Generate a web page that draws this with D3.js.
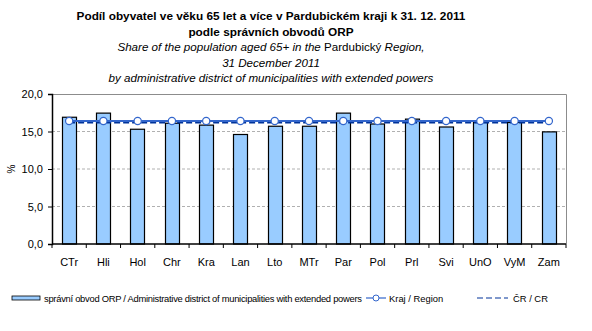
<!DOCTYPE html>
<html><head><meta charset="utf-8">
<script src="https://cdn.jsdelivr.net/npm/d3@7/dist/d3.min.js"></script>
<style>body{margin:0;background:#fff}svg{display:block}text{font-family:"Liberation Sans",Arial,sans-serif}</style>
</head><body>
<svg id="c" width="592" height="331"></svg>
<script>
const categories = ["CTr","Hli","Hol","Chr","Kra","Lan","Lto","MTr","Par","Pol","Prl","Svi","UnO","VyM","Zam"];
const orpValues = [16.9,17.45,15.3,16.1,15.85,14.6,15.7,15.7,17.45,16.0,16.65,15.6,16.2,16.2,14.95];
const regionValues = [16.4,16.4,16.4,16.4,16.4,16.4,16.4,16.4,16.4,16.4,16.4,16.4,16.4,16.4,16.4];
const crValues = [16.2,16.2,16.2,16.2,16.2,16.2,16.2,16.2,16.2,16.2,16.2,16.2,16.2,16.2,16.2];
const yTicks = [0,5,10,15,20];
const titleLines = ["Podíl obyvatel ve věku 65 let a více v Pardubickém  kraji k 31. 12. 2011","podle správních  obvodů ORP"];
const subtitleLines = ["Share of the population  aged 65+ in the Pardubický Region,","31 December 2011","by administrative district of municipalities with extended powers"];
const legendLabels = ["správní obvod ORP / Administrative district of municipalities with extended powers","Kraj / Region","ČR / CR"];

const svg = d3.select("#c");
const L=52, R=566, T=94, B=244;
const x = d3.scaleBand().domain(categories).range([L,R]).paddingInner(0.58).paddingOuter(0.29);
const xb = d3.scaleBand().domain(categories).range([L,R]);
const y = d3.scaleLinear().domain([0,20]).range([B,T]);

// titles
const cx=271;
titleLines.forEach((t,i)=>svg.append("text").attr("x",cx).attr("y",20+i*16).attr("text-anchor","middle")
  .attr("font-size",11.8).attr("font-weight","bold").attr("fill","#000").text(t));
subtitleLines.forEach((t,i)=>{
  const tx=svg.append("text").attr("x",cx).attr("y",51+i*15.7).attr("text-anchor","middle").attr("font-size",11.6).attr("fill","#000");
  if(i===0){
    tx.append("tspan").attr("font-style","italic").text("Share of the population  aged 65+ in the ");
    tx.append("tspan").text("Pardubický");
    tx.append("tspan").attr("font-style","italic").text(" Region,");
  } else tx.attr("font-style","italic").text(t);
});

// gridlines
svg.append("g").selectAll("line").data(yTicks.filter(d=>d>0&&d<20)).join("line")
  .attr("x1",L).attr("x2",R).attr("y1",d=>y(d)).attr("y2",d=>y(d))
  .attr("stroke","#b0b0b0").attr("stroke-dasharray","3,2").attr("stroke-width",1);
// top & right border
svg.append("path").attr("d",`M${L},${T+0.5}H${R+0.5}V${B}`).attr("fill","none").attr("stroke","#8c8c8c");

// bars
svg.append("g").selectAll("rect").data(orpValues).join("rect")
  .attr("x",(d,i)=>Math.round(x(categories[i]))+0.5).attr("width",Math.round(x.bandwidth()))
  .attr("y",d=>y(d)).attr("height",d=>B-y(d))
  .attr("fill","#99CCFF").attr("stroke","#000").attr("stroke-width",1.2);

// CR dashed line
const line = d3.line().x((d,i)=>xb(categories[i])+xb.bandwidth()/2).y(d=>y(d));
svg.append("path").datum(crValues).attr("d",line).attr("fill","none").attr("stroke","#003399").attr("stroke-width",2).attr("stroke-dasharray","6,3");
// region line
svg.append("path").datum(regionValues).attr("d",line).attr("fill","none").attr("stroke","#3366CC").attr("stroke-width",2.2);
svg.append("g").selectAll("circle").data(regionValues).join("circle")
  .attr("cx",(d,i)=>xb(categories[i])+xb.bandwidth()/2).attr("cy",d=>y(d)).attr("r",3.6)
  .attr("fill","#fff").attr("stroke","#3366CC").attr("stroke-width",1.2);

// y axis
const ya = svg.append("g").attr("transform",`translate(${L},0)`)
  .call(d3.axisLeft(y).tickValues(yTicks).tickSize(4).tickFormat(d=>d3.format(".1f")(d).replace(".",",")));
ya.select(".domain").attr("stroke","#000").attr("stroke-width",1.5);
ya.selectAll("text").attr("font-size",11).attr("font-family","Liberation Sans, Arial").attr("fill","#000").attr("dx",-2);
svg.append("text").attr("transform","translate(15,169) rotate(-90)").attr("text-anchor","middle").attr("font-size",10).text("%");

// x axis
const xa = svg.append("g").attr("transform",`translate(0,${B})`);
xa.append("line").attr("x1",L).attr("x2",R).attr("stroke","#000").attr("stroke-width",1.5);
xa.selectAll("line.t").data(categories.concat(["end"])).join("line").attr("class","t")
  .attr("x1",(d,i)=>L+i*xb.step()).attr("x2",(d,i)=>L+i*xb.step()).attr("y1",0).attr("y2",4).attr("stroke","#000");
xa.selectAll("text").data(categories).join("text").attr("x",d=>xb(d)+xb.bandwidth()/2).attr("y",22)
  .attr("text-anchor","middle").attr("font-size",11).attr("fill","#000").text(d=>d);

// legend
const ly=298;
svg.append("rect").attr("x",12).attr("y",ly-2).attr("width",28).attr("height",4).attr("fill","#99CCFF").attr("stroke","#000").attr("stroke-width",0.8);
svg.append("text").attr("x",44).attr("y",ly+3.5).attr("font-size",9.4).attr("textLength",318).text(legendLabels[0]);
svg.append("line").attr("x1",366).attr("x2",386).attr("y1",ly).attr("y2",ly).attr("stroke","#3366CC").attr("stroke-width",1.2);
svg.append("circle").attr("cx",376).attr("cy",ly).attr("r",3).attr("fill","#fff").attr("stroke","#3366CC");
svg.append("text").attr("x",389).attr("y",ly+3.5).attr("font-size",9.4).text(legendLabels[1]);
svg.append("line").attr("x1",477).attr("x2",508).attr("y1",ly).attr("y2",ly).attr("stroke","#003399").attr("stroke-width",1.2).attr("stroke-dasharray","6,3");
svg.append("text").attr("x",513).attr("y",ly+3.5).attr("font-size",9.4).text(legendLabels[2]);
</script>
</body></html>
